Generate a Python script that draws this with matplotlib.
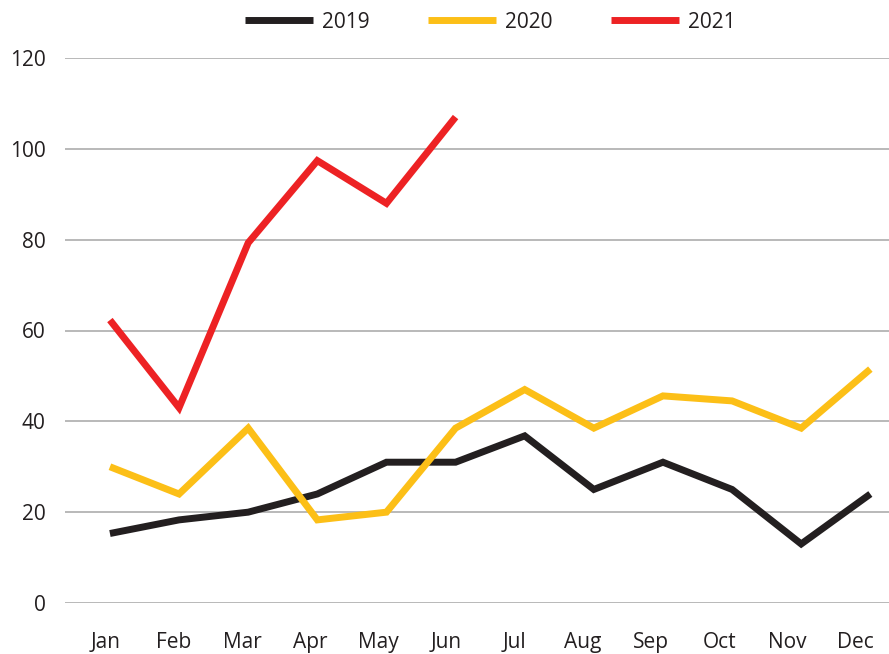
import matplotlib
matplotlib.use("Agg")
import matplotlib.pyplot as plt
from matplotlib.transforms import ScaledTranslation

months = ["Jan", "Feb", "Mar", "Apr", "May", "Jun", "Jul", "Aug", "Sep", "Oct", "Nov", "Dec"]
y2019 = [15.3, 18.3, 20, 24, 31, 31, 36.8, 25, 31, 25, 13, 24]
y2020 = [30, 24, 38.5, 18.3, 20, 38.5, 47, 38.5, 45.6, 44.5, 38.5, 51.5]
y2021 = [62.3, 43, 79.3, 97.4, 88, 107]

plt.rcParams["font.family"] = ["Open Sans", "DejaVu Sans"]

fig = plt.figure(figsize=(8.89, 6.54), dpi=100)
ax = fig.add_axes([65 / 889, 51 / 654, 824 / 889, 545 / 654])

x = list(range(len(months)))
ax.plot(x, y2019, color="#231f20", lw=5, label="2019", solid_joinstyle="miter", solid_capstyle="butt", zorder=3)
ax.plot(x, y2020, color="#fcbf17", lw=5, label="2020", solid_joinstyle="miter", solid_capstyle="butt", zorder=3)
ax.plot(x[:len(y2021)], y2021, color="#ed2224", lw=5, label="2021", solid_joinstyle="miter", solid_capstyle="butt", zorder=3)

ax.set_xlim(-0.65, 11.27)
ax.set_ylim(0, 120)
ax.set_yticks(range(0, 121, 20))
ax.set_xticks(x)
ax.set_xticklabels(months)
ax.grid(axis="y", color="#a6a6a6", lw=1.1)
ax.set_axisbelow(True)
for s in ax.spines.values():
    s.set_visible(False)
ax.tick_params(axis="both", length=0, labelsize=15, colors="#231f20")
ax.tick_params(axis="y", pad=14)
ax.tick_params(axis="x", pad=21)
# month labels drift a little left of the points in the original
for i, tick in enumerate(ax.xaxis.get_major_ticks()):
    lab = tick.label1
    lab.set_transform(lab.get_transform() + ScaledTranslation(-(4 + i) / 100, 0, fig.dpi_scale_trans))

fig.legend(loc="center", bbox_to_anchor=(490 / 889, 1 - 22 / 654), ncol=3, frameon=False,
           fontsize=15, handlelength=3.3, handletextpad=0.4, columnspacing=2.8, labelcolor="#231f20")

fig.savefig("out.png", dpi=100)
